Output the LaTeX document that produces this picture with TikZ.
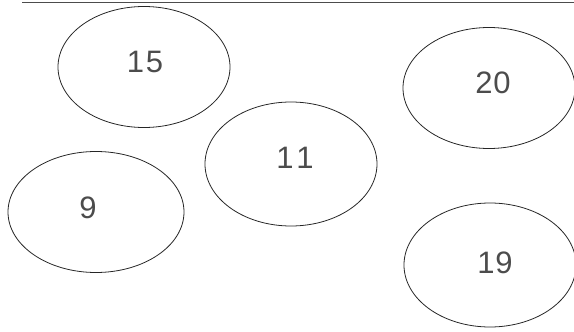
\documentclass[tikz,border=0pt]{standalone}
\usepackage{fontspec}
\setmainfont{Liberation Sans}
\usetikzlibrary{shapes.geometric}
\begin{document}
\begin{tikzpicture}[x=1pt,y=-1pt,
  oval/.style={draw=black!85,line width=0.8pt,ellipse,minimum width=172pt,minimum height=121pt,inner sep=0pt},
  num/.style={text=black!70,font=\fontsize{31}{31}\selectfont,inner sep=0pt}]
\useasboundingbox (0,0) rectangle (574,332);
\draw[black!70,line width=1.6pt] (22,2.5) -- (574,2.5);
\node[oval] (e15) at (144,67) {};
\node[oval] (e20) at (489,88) {};
\node[oval,minimum height=124pt] (e11) at (291,164) {};
\node[oval,minimum width=176pt] (e9) at (96,212) {};
\node[oval,minimum height=124pt] (e19) at (490,265) {};
\node[num] (t15) at (145,62) {1\kern2pt5};
\node[num] (t20) at (493,83) {2\kern1pt0};
\node[num] (t11) at (295,158) {1\kern3pt1};
\node[num] (t9) at (88,208) {9};
\node[num] (t19) at (495,263) {1\kern1pt9};
\end{tikzpicture}
\end{document}
